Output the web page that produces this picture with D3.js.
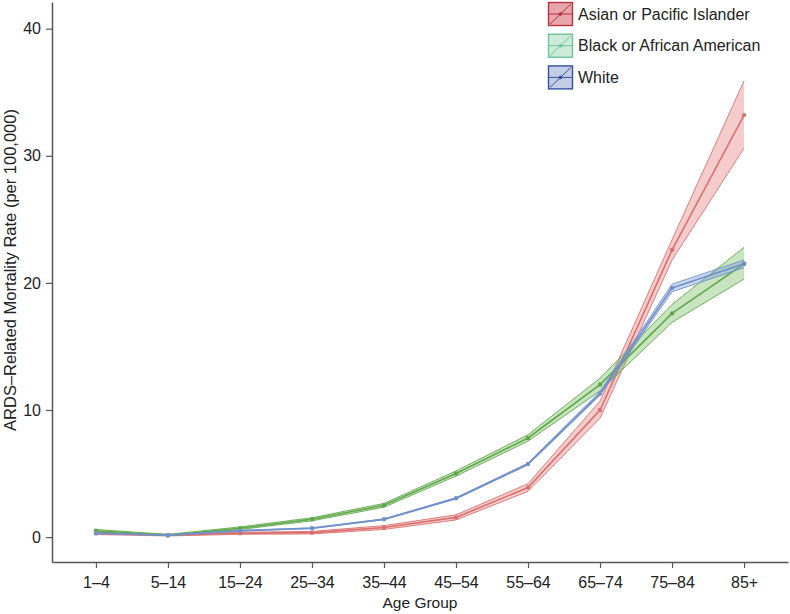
<!DOCTYPE html>
<html>
<head>
<meta charset="utf-8">
<script src="https://cdn.jsdelivr.net/npm/d3@7"></script>
<style>
  body { margin: 0; background: #fff; }
  svg { display: block; font-family: "Liberation Sans", Arial, Helvetica, sans-serif; }
</style>
</head>
<body>
<div id="chart"></div>
<script>
// age groups on the x axis
var ageGroups = ['1\u20134', '5\u201314', '15\u201324', '25\u201334', '35\u201344', '45\u201354', '55\u201364', '65\u201374', '75\u201384', '85+'];
var yTicks = [0, 10, 20, 30, 40];

// rates per 100,000 with confidence band
var asianRate  = [0.30, 0.15, 0.30, 0.35, 0.75, 1.55, 3.90, 10.0, 22.6, 33.2];
var asianLow   = [0.20, 0.09, 0.22, 0.25, 0.60, 1.35, 3.60, 9.35, 21.8, 30.6];
var asianHigh  = [0.40, 0.22, 0.38, 0.45, 0.90, 1.75, 4.20, 10.7, 23.4, 35.9];

var blackRate  = [0.50, 0.15, 0.70, 1.40, 2.50, 5.00, 7.80, 12.0, 17.6, 21.5];
var blackLow   = [0.40, 0.10, 0.60, 1.28, 2.35, 4.80, 7.55, 11.5, 16.9, 20.3];
var blackHigh  = [0.60, 0.21, 0.80, 1.52, 2.65, 5.20, 8.05, 12.5, 18.3, 22.8];

var whiteRate  = [0.30, 0.15, 0.50, 0.70, 1.40, 3.05, 5.75, 11.3, 19.6, 21.5];
var whiteLow   = [0.27, 0.13, 0.47, 0.67, 1.36, 3.00, 5.68, 11.15, 19.3, 21.2];
var whiteHigh  = [0.33, 0.17, 0.53, 0.73, 1.44, 3.10, 5.82, 11.45, 19.9, 21.8];

var seriesNames = ['Asian or Pacific Islander', 'Black or African American', 'White'];

var series = [
  { name: seriesNames[0], rate: asianRate, low: asianLow, high: asianHigh,
    line: '#d9706e', fill: 'rgba(226,120,120,0.38)', key: '#b8323f', keyFill: '#e7a6ab' },
  { name: seriesNames[1], rate: blackRate, low: blackLow, high: blackHigh,
    line: '#5fa84a', fill: 'rgba(110,185,90,0.38)', key: '#6cc49a', keyFill: '#cdebd9' },
  { name: seriesNames[2], rate: whiteRate, low: whiteLow, high: whiteHigh,
    line: '#7190cc', fill: 'rgba(120,150,210,0.38)', key: '#3452a2', keyFill: '#c3cde6' }
];

var width = 790, height = 614;
var margin = { top: 2, right: 2, bottom: 52, left: 52 };

var svg = d3.select('#chart').append('svg')
  .attr('width', width).attr('height', height);

var x = d3.scalePoint()
  .domain(ageGroups)
  .range([margin.left, width - margin.right])
  .padding(0.61);

var y = d3.scaleLinear()
  .domain([-1.96, 42.1])
  .range([height - margin.bottom, margin.top]);

var plot = svg.append('g');

var area = d3.area()
  .x(function (d, i) { return x(ageGroups[i]); })
  .y0(function (d) { return y(d[0]); })
  .y1(function (d) { return y(d[1]); });

var line = d3.line()
  .x(function (d, i) { return x(ageGroups[i]); })
  .y(function (d) { return y(d); });

series.forEach(function (s) {
  var g = plot.append('g');
  var band = s.low.map(function (v, i) { return [v, s.high[i]]; });

  g.append('path')
    .attr('d', area(band))
    .attr('fill', s.fill)
    .attr('stroke', 'none');

  g.append('path').attr('d', line(s.low))
    .attr('fill', 'none').attr('stroke', s.line).attr('stroke-width', 0.9);
  g.append('path').attr('d', line(s.high))
    .attr('fill', 'none').attr('stroke', s.line).attr('stroke-width', 0.9);

  g.append('path').attr('d', line(s.rate))
    .attr('fill', 'none').attr('stroke', s.line).attr('stroke-width', 1.6);

  g.selectAll('circle').data(s.rate).enter().append('circle')
    .attr('cx', function (d, i) { return x(ageGroups[i]); })
    .attr('cy', function (d) { return y(d); })
    .attr('r', 2.2)
    .attr('fill', s.line);
});

// axes
var xAxis = svg.append('g')
  .attr('transform', 'translate(0,' + (height - margin.bottom) + ')')
  .call(d3.axisBottom(x).tickSize(6).tickPadding(9).tickSizeOuter(0));

var yAxis = svg.append('g')
  .attr('transform', 'translate(' + margin.left + ',0)')
  .call(d3.axisLeft(y).tickValues(yTicks).tickSize(6).tickPadding(5).tickSizeOuter(0));

[xAxis, yAxis].forEach(function (a) {
  a.select('.domain').attr('stroke', '#555').attr('stroke-width', 1.5);
  a.selectAll('.tick line').attr('stroke', '#555').attr('stroke-width', 1.2);
  a.selectAll('.tick text').attr('fill', '#222').style('font-size', '16px')
    .style('font-family', '"Liberation Sans", Arial, sans-serif');
});

svg.append('text')
  .attr('x', (margin.left + width - margin.right) / 2)
  .attr('y', 608)
  .attr('text-anchor', 'middle')
  .attr('fill', '#222')
  .style('font-size', '15.5px')
  .text('Age Group');

svg.append('text')
  .attr('transform', 'translate(16,270) rotate(-90)')
  .attr('text-anchor', 'middle')
  .attr('fill', '#222')
  .style('font-size', '16.5px')
  .text('ARDS\u2013Related Mortality Rate (per 100,000)');

// legend
var legend = svg.append('g').attr('transform', 'translate(548,2)');
series.forEach(function (s, i) {
  var g = legend.append('g').attr('transform', 'translate(0,' + (i * 31.7) + ')');
  g.append('rect')
    .attr('x', 0.5).attr('y', 0.5).attr('width', 24).attr('height', 23)
    .attr('fill', s.keyFill).attr('stroke', s.key).attr('stroke-width', 1.4);
  g.append('line').attr('x1', 1).attr('y1', 12).attr('x2', 24).attr('y2', 12)
    .attr('stroke', s.key).attr('stroke-width', 1);
  g.append('line').attr('x1', 2).attr('y1', 22).attr('x2', 23).attr('y2', 2)
    .attr('stroke', s.key).attr('stroke-width', 1);
  g.append('circle').attr('cx', 12.5).attr('cy', 12).attr('r', 1.8).attr('fill', s.key);
  g.append('text')
    .attr('x', 30).attr('y', 17.5)
    .attr('fill', '#222')
    .style('font-size', '16px')
    .text(s.name);
});
</script>
</body>
</html>
